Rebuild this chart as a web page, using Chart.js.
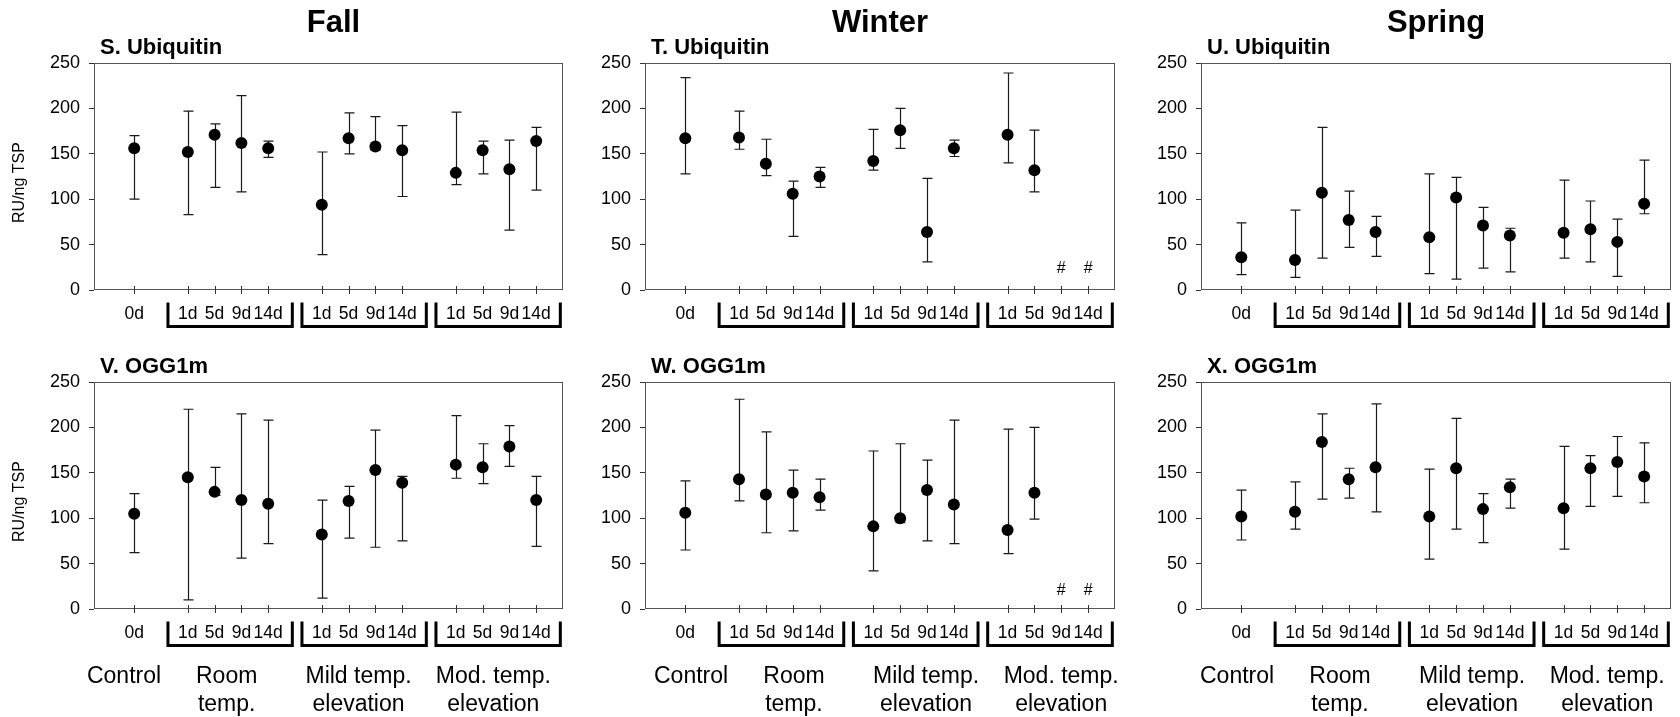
<!DOCTYPE html>
<html><head><meta charset="utf-8">
<script src="https://cdn.jsdelivr.net/npm/chart.js@4.4.1/dist/chart.umd.min.js"></script>
<style>
html,body{margin:0;padding:0;background:#fff;}
#wrap{position:relative;width:1680px;height:717px;overflow:hidden;background:#fff;}
canvas{position:absolute;}
</style></head><body><div id="wrap"></div>
<script>
const FONT = '"Liberation Sans", Arial, Helvetica, sans-serif';

// ---- data ----
const seasons = ['Fall', 'Winter', 'Spring'];
const panelTitles = ['S. Ubiquitin', 'T. Ubiquitin', 'U. Ubiquitin', 'V. OGG1m', 'W. OGG1m', 'X. OGG1m'];
const xLabels = ['', '0d', '', '1d', '5d', '9d', '14d', '', '1d', '5d', '9d', '14d', '', '1d', '5d', '9d', '14d'];
const yTicks = [0, 50, 100, 150, 200, 250];
const groupNames = [['Control'], ['Room', 'temp.'], ['Mild temp.', 'elevation'], ['Mod. temp.', 'elevation']];
const axisTitle = 'RU/ng TSP';
const missingMark = '#';

const sMean = [156, 152, 171, 162, 156, 94, 167, 158, 154, 129, 154, 133, 164];
const sLow  = [100, 83, 113, 108, 146, 39, 150, 154, 103, 116, 128, 66, 110];
const sHigh = [170, 197, 183, 214, 164, 152, 195, 191, 181, 196, 164, 165, 179];

const tMean = [167, 168, 139, 106, 125, 142, 176, 64, 156, 171, 132, null, null];
const tLow  = [128, 155, 126, 59, 113, 132, 156, 31, 147, 140, 108, null, null];
const tHigh = [234, 197, 166, 120, 135, 177, 200, 123, 165, 239, 176, null, null];
const tMissingY = 24;

const uMean = [36, 33, 107, 77, 64, 58, 102, 71, 60, 63, 67, 53, 95];
const uLow  = [17, 14, 35, 47, 37, 18, 12, 24, 20, 35, 31, 15, 84];
const uHigh = [74, 88, 179, 109, 81, 128, 124, 91, 68, 121, 98, 78, 143];

const vMean = [105, 145, 129, 120, 116, 82, 119, 153, 139, 159, 156, 179, 120];
const vLow  = [62, 10, 125, 56, 72, 12, 78, 68, 75, 144, 138, 157, 69];
const vHigh = [127, 220, 156, 215, 208, 120, 135, 197, 146, 213, 182, 202, 146];

const wMean = [106, 143, 126, 128, 123, 91, 100, 131, 115, 87, 128, null, null];
const wLow  = [65, 119, 84, 86, 109, 42, 95, 75, 72, 61, 99, null, null];
const wHigh = [141, 231, 195, 153, 143, 174, 182, 164, 208, 198, 200, null, null];
const wMissingY = 20;

const xMean = [102, 107, 184, 143, 156, 102, 155, 110, 134, 111, 155, 162, 146];
const xLow  = [76, 88, 121, 122, 107, 55, 88, 73, 111, 66, 113, 124, 117];
const xHigh = [131, 140, 215, 155, 226, 154, 210, 127, 143, 179, 169, 190, 183];

// ---- layout (pixels) ----
const cols = [
  {left: 0, width: 580, chartL: 94, chartR: 563, labelShift: 0},
  {left: 580, width: 560, chartL: 645, chartR: 1115, labelShift: 16},
  {left: 1140, width: 540, chartL: 1201, chartR: 1671, labelShift: 6}
];
const rows = [
  {top: 0, height: 335, chartT: 63, chartB: 290},
  {top: 335, height: 382, chartT: 382, chartB: 609}
];
const Y_AXIS_W = 56;

const tickIdx = xLabels.map((l, i) => l ? i : -1).filter(i => i >= 0);
// group spans (category index ranges) for brackets and group labels
const groups = [[1, 1], [3, 6], [8, 11], [13, 16]];
const groupLabelPos = [0.62, 4.45, 9.37, 14.4];

const panels = [
  {mean: sMean, low: sLow, high: sHigh, col: 0, row: 0},
  {mean: tMean, low: tLow, high: tHigh, col: 1, row: 0, missY: tMissingY},
  {mean: uMean, low: uLow, high: uHigh, col: 2, row: 0},
  {mean: vMean, low: vLow, high: vHigh, col: 0, row: 1},
  {mean: wMean, low: wLow, high: wHigh, col: 1, row: 1, missY: wMissingY},
  {mean: xMean, low: xLow, high: xHigh, col: 2, row: 1}
];

const wrap = document.getElementById('wrap');

panels.forEach((p, pi) => {
  const c = cols[p.col], r = rows[p.row];
  const cv = document.createElement('canvas');
  cv.width = c.width; cv.height = r.height;
  cv.style.left = c.left + 'px'; cv.style.top = r.top + 'px';
  cv.style.width = c.width + 'px'; cv.style.height = r.height + 'px';
  wrap.appendChild(cv);

  const padL = c.chartL - c.left - Y_AXIS_W;
  const padR = c.left + c.width - c.chartR;
  const padT = r.chartT - r.top;
  const xH = r.top + r.height - r.chartB;

  const pts = tickIdx.map((idx, i) => ({x: idx, y: p.mean[i]}));

  const deco = {
    id: 'deco' + pi,
    beforeDatasetsDraw(chart) {
      const ctx = chart.ctx, a = chart.chartArea;
      const xs = chart.scales.x, ys = chart.scales.y;
      ctx.save();
      // frame
      ctx.strokeStyle = '#555';
      ctx.lineWidth = 1;
      ctx.strokeRect(Math.round(a.left) + 0.5, Math.round(a.top) + 0.5,
                     Math.round(a.right - a.left) - 1, Math.round(a.bottom - a.top) - 1);
      // x tick marks crossing the axis
      ctx.strokeStyle = '#333';
      tickIdx.forEach(idx => {
        const x = Math.round(xs.getPixelForValue(idx)) + 0.5;
        ctx.beginPath();
        ctx.moveTo(x, a.bottom - 4);
        ctx.lineTo(x, a.bottom + 4);
        ctx.stroke();
      });
      // error bars
      ctx.strokeStyle = '#1a1a1a';
      ctx.lineWidth = 1.2;
      tickIdx.forEach((idx, i) => {
        if (p.mean[i] == null) return;
        const x = Math.round(xs.getPixelForValue(idx)) + 0.5;
        const yl = ys.getPixelForValue(p.low[i]);
        const yh = ys.getPixelForValue(p.high[i]);
        ctx.beginPath();
        ctx.moveTo(x, yl); ctx.lineTo(x, yh);
        ctx.moveTo(x - 5, yl); ctx.lineTo(x + 5, yl);
        ctx.moveTo(x - 5, yh); ctx.lineTo(x + 5, yh);
        ctx.stroke();
      });
      ctx.restore();
    },
    afterDraw(chart) {
      const ctx = chart.ctx, a = chart.chartArea;
      const xs = chart.scales.x, ys = chart.scales.y;
      ctx.save();
      ctx.fillStyle = '#000';
      // season title
      if (p.row === 0) {
        ctx.font = 'bold 31px ' + FONT;
        ctx.textAlign = 'center'; ctx.textBaseline = 'middle';
        ctx.fillText(seasons[p.col], (a.left + a.right) / 2 + (p.col === 0 ? 5 : 0), 23);
      }
      // panel title
      ctx.font = 'bold 22px ' + FONT;
      ctx.textAlign = 'left'; ctx.textBaseline = 'middle';
      ctx.fillText(panelTitles[pi], a.left + 6, a.top - 15);
      // y axis title
      if (p.col === 0) {
        ctx.save();
        ctx.translate(20, (a.top + a.bottom) / 2 + 6);
        ctx.rotate(-Math.PI / 2);
        ctx.font = '16px ' + FONT;
        ctx.textAlign = 'center'; ctx.textBaseline = 'middle';
        ctx.fillText(axisTitle, 0, 0);
        ctx.restore();
      }
      // missing markers
      if (p.missY != null) {
        ctx.font = '16px ' + FONT;
        ctx.textAlign = 'center'; ctx.textBaseline = 'middle';
        tickIdx.forEach((idx, i) => {
          if (p.mean[i] == null) ctx.fillText(missingMark, xs.getPixelForValue(idx), ys.getPixelForValue(p.missY));
        });
      }
      // brackets
      ctx.strokeStyle = '#000';
      ctx.lineWidth = 3;
      ctx.lineCap = 'butt';
      groups.slice(1).forEach(g => {
        const x1 = xs.getPixelForValue(g[0] - 0.74);
        const x2 = Math.min(xs.getPixelForValue(g[1] + 0.9), a.right - 1);
        const yTop = a.bottom + 12.5, yBot = a.bottom + 36.5;
        ctx.beginPath();
        ctx.moveTo(x1, yTop); ctx.lineTo(x1, yBot); ctx.lineTo(x2, yBot); ctx.lineTo(x2, yTop);
        ctx.stroke();
      });
      // group labels
      if (p.row === 1) {
        ctx.font = '23px ' + FONT;
        ctx.textAlign = 'center'; ctx.textBaseline = 'middle';
        groupNames.forEach((lines, gi) => {
          const x = xs.getPixelForValue(groupLabelPos[gi]) + c.labelShift;
          lines.forEach((t, li) => ctx.fillText(t, x, a.bottom + 68 + li * 28));
        });
      }
      ctx.restore();
    }
  };

  new Chart(cv, {
    type: 'scatter',
    data: {
      datasets: [{
        data: pts,
        pointRadius: 6,
        pointHoverRadius: 6,
        pointBackgroundColor: '#000',
        pointBorderWidth: 0,
        showLine: false,
        clip: false
      }]
    },
    options: {
      responsive: false,
      animation: false,
      devicePixelRatio: 1,
      events: [],
      layout: {padding: {left: padL, right: padR, top: padT, bottom: 0}},
      plugins: {legend: {display: false}, tooltip: {enabled: false}, title: {display: false}},
      scales: {
        x: {
          type: 'linear', min: -0.5, max: 17, bounds: 'data',
          afterBuildTicks: ax => { ax.ticks = tickIdx.map(v => ({value: v})); },
          afterFit: ax => { ax.height = xH; },
          grid: {display: false, drawTicks: false},
          border: {display: false},
          ticks: {autoSkip: false, maxRotation: 0, minRotation: 0, padding: 14, color: '#000',
                  font: {family: FONT, size: 17.5}, callback: v => xLabels[v]}
        },
        y: {
          type: 'linear', min: 0, max: 250, bounds: 'data',
          afterBuildTicks: ax => { ax.ticks = yTicks.map(v => ({value: v})); },
          afterFit: ax => { ax.width = Y_AXIS_W; },
          grid: {display: true, drawOnChartArea: false, drawTicks: true, tickLength: 5, color: '#333'},
          border: {display: false},
          ticks: {padding: 9, color: '#000', font: {family: FONT, size: 18}}
        }
      }
    },
    plugins: [deco]
  });
});
</script></body></html>
